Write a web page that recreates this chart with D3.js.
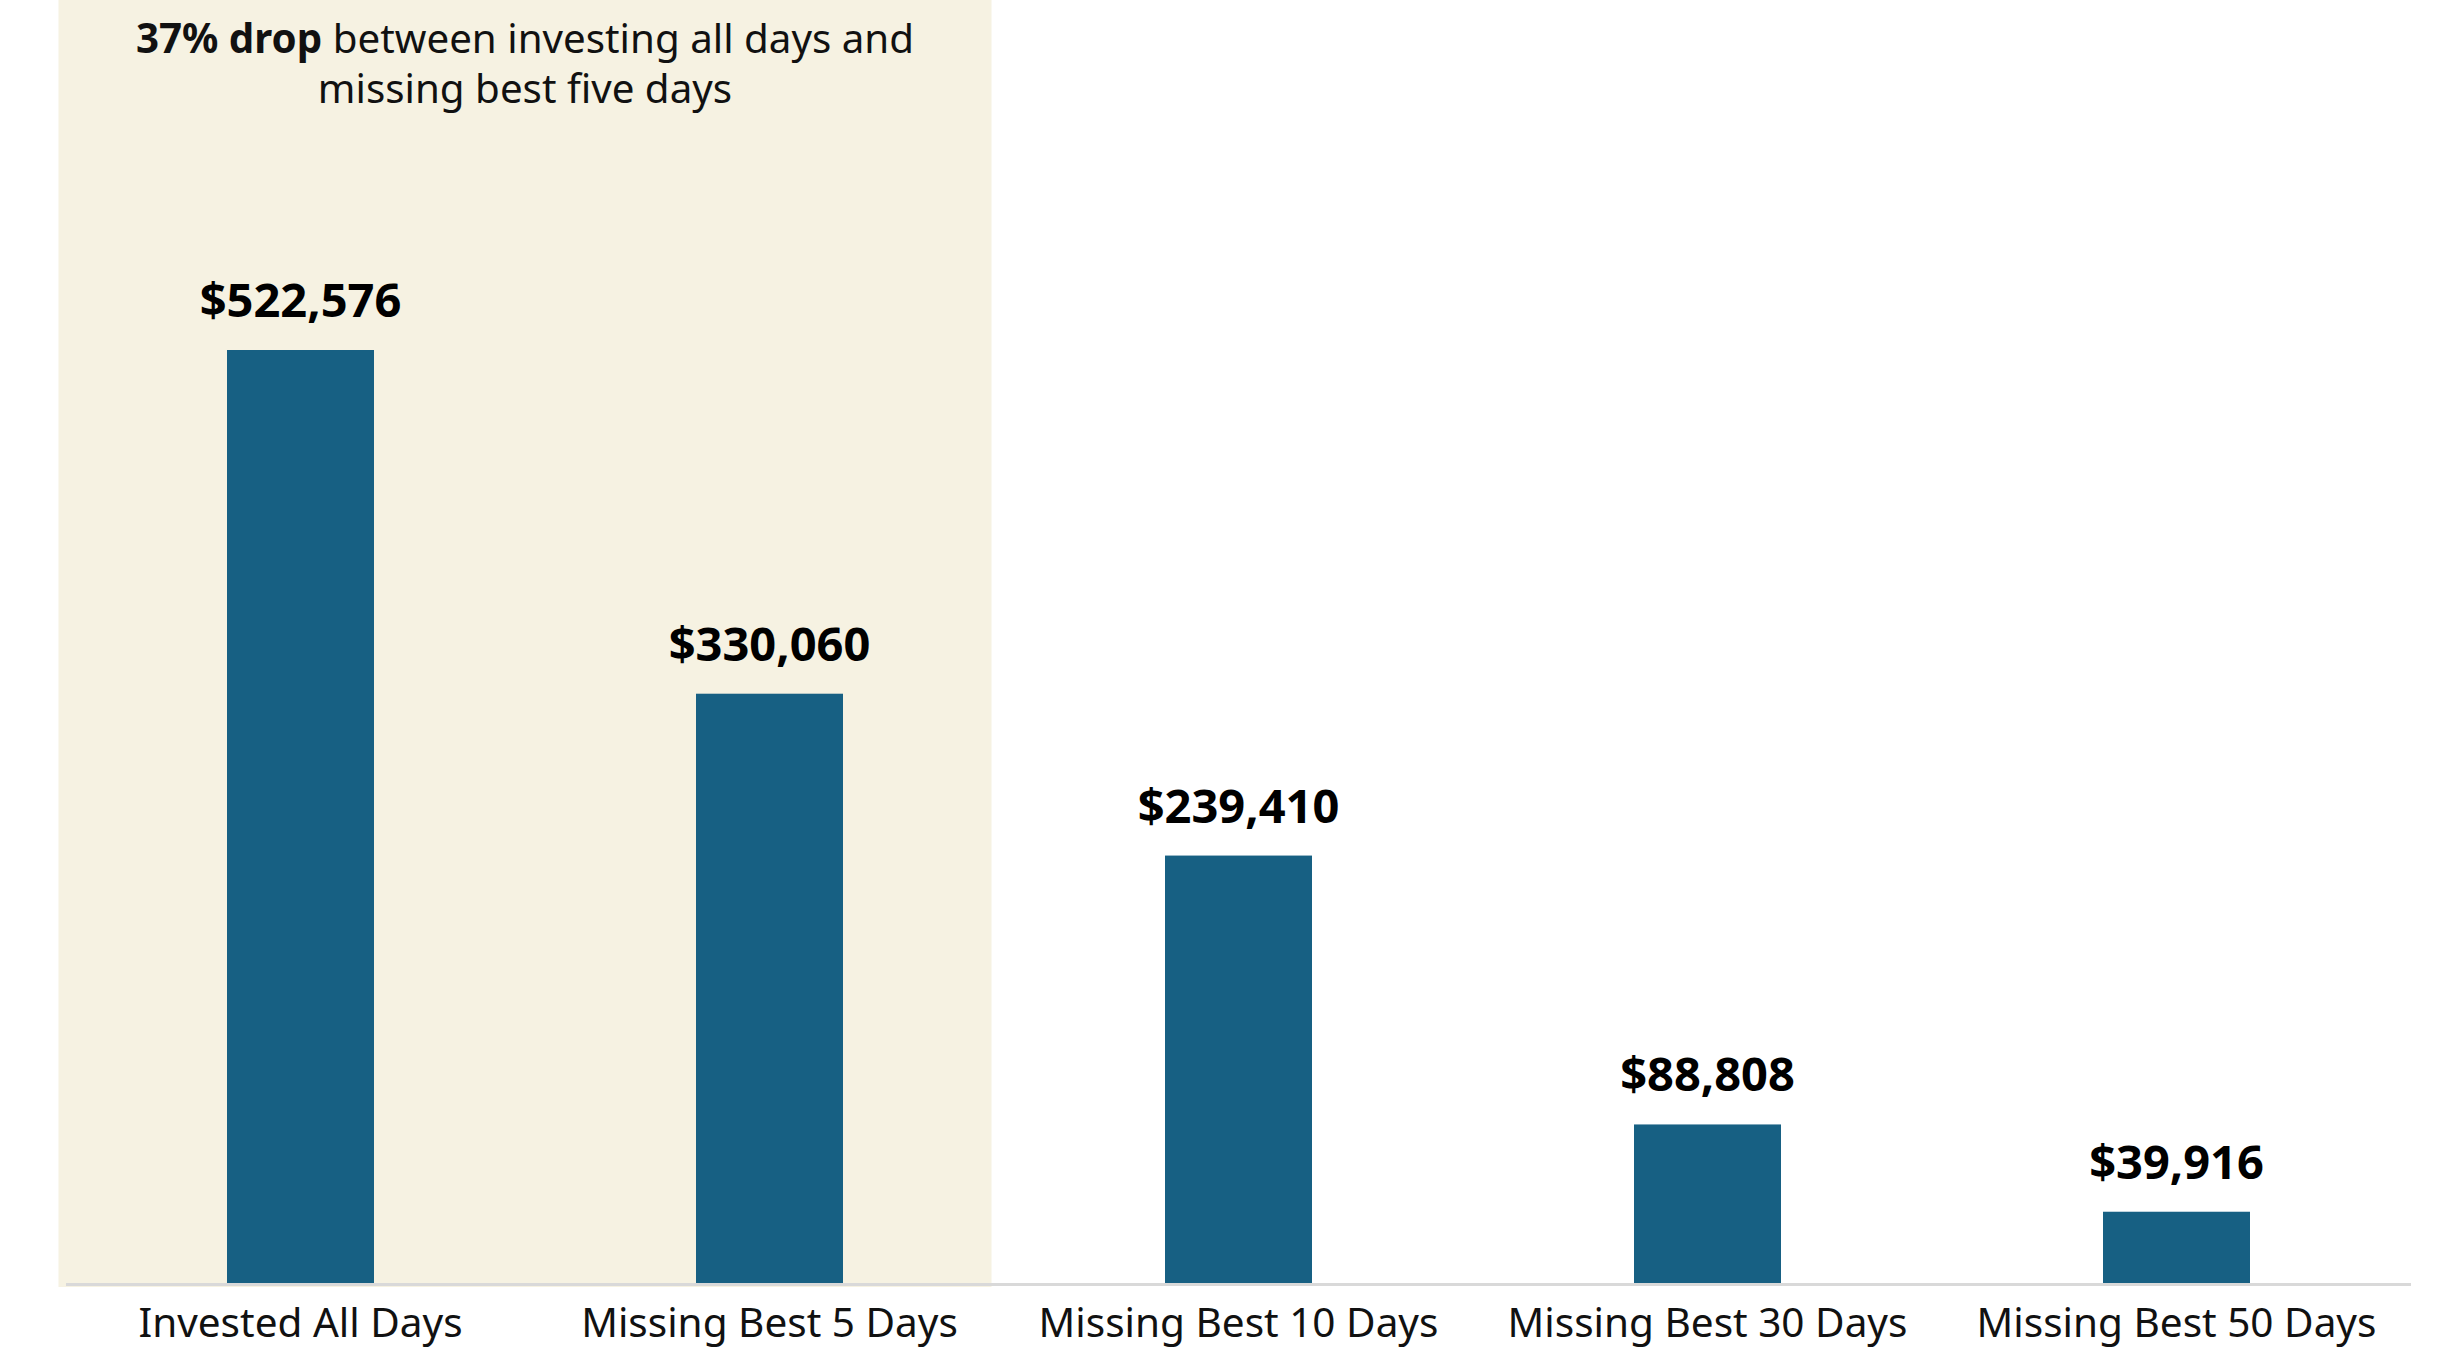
<!DOCTYPE html>
<html>
<head>
<meta charset="utf-8">
<script src="https://cdn.jsdelivr.net/npm/d3@7"></script>
<style>
  html, body { margin: 0; padding: 0; background: #ffffff; }
  svg { display: block; }
</style>
</head>
<body>
<svg id="chart" width="2458" height="1366"></svg>
<script>
const categories = ["Invested All Days", "Missing Best 5 Days", "Missing Best 10 Days", "Missing Best 30 Days", "Missing Best 50 Days"];
const values = [522576, 330060, 239410, 88808, 39916];
const highlightCategories = ["Invested All Days", "Missing Best 5 Days"];
const annotationBold = "37% drop";
const annotationLine1 = " between investing all days and";
const annotationLine2 = "missing best five days";

const W = 2458, H = 1366;
const baseline = 1283;
const svg = d3.select("#chart");
const FONT = "'Noto Sans', 'Open Sans', sans-serif";

const x = d3.scaleBand()
  .domain(categories)
  .range([66, 2411])
  .paddingInner(0.6866)
  .paddingOuter(0.3433);

const y = d3.scaleLinear()
  .domain([0, 522576])
  .range([baseline, 350]);

// highlight panel
const hx0 = x(highlightCategories[0]) + x.bandwidth() / 2 - 242;
const hx1 = x(highlightCategories[highlightCategories.length - 1]) + x.bandwidth() / 2 + 222;
svg.append("rect")
  .attr("x", hx0).attr("y", 0)
  .attr("width", hx1 - hx0).attr("height", baseline + 4)
  .attr("fill", "#f6f2e2");

// annotation
const ann = svg.append("text")
  .attr("x", (hx0 + hx1) / 2)
  .attr("y", 53)
  .attr("text-anchor", "middle")
  .attr("font-family", FONT)
  .attr("font-size", 40.3)
  .attr("fill", "#111");
ann.append("tspan").attr("font-weight", 700).text(annotationBold);
ann.append("tspan").attr("font-weight", 400).text(annotationLine1);
svg.append("text")
  .attr("x", (hx0 + hx1) / 2)
  .attr("y", 103)
  .attr("text-anchor", "middle")
  .attr("font-family", FONT)
  .attr("font-size", 40.3)
  .attr("fill", "#111")
  .text(annotationLine2);

// bars
svg.selectAll("rect.bar")
  .data(values)
  .join("rect")
  .attr("class", "bar")
  .attr("x", (d, i) => x(categories[i]))
  .attr("y", d => y(d))
  .attr("width", x.bandwidth())
  .attr("height", d => y(0) - y(d))
  .attr("fill", "#176083");

// value labels
const fmt = d3.format(",");
svg.selectAll("text.val")
  .data(values)
  .join("text")
  .attr("class", "val")
  .attr("x", (d, i) => x(categories[i]) + x.bandwidth() / 2)
  .attr("y", d => y(d) - 33)
  .attr("text-anchor", "middle")
  .attr("font-family", FONT)
  .attr("font-weight", 700)
  .attr("font-size", 47)
  .attr("fill", "#000")
  .text(d => "$" + fmt(d));

// axis
const axis = d3.axisBottom(x).tickSize(0).tickPadding(0);
const gAxis = svg.append("g")
  .attr("transform", `translate(0,${baseline})`)
  .call(axis);
gAxis.select(".domain")
  .attr("stroke", "#d9d9d9")
  .attr("stroke-width", 3)
  .attr("d", `M${x.range()[0]},1.5H${x.range()[1]}`);
gAxis.selectAll(".tick text")
  .attr("font-family", FONT)
  .attr("font-size", 40.5)
  .attr("fill", "#111")
  .attr("dy", null)
  .attr("y", 54);
</script>
</body>
</html>
